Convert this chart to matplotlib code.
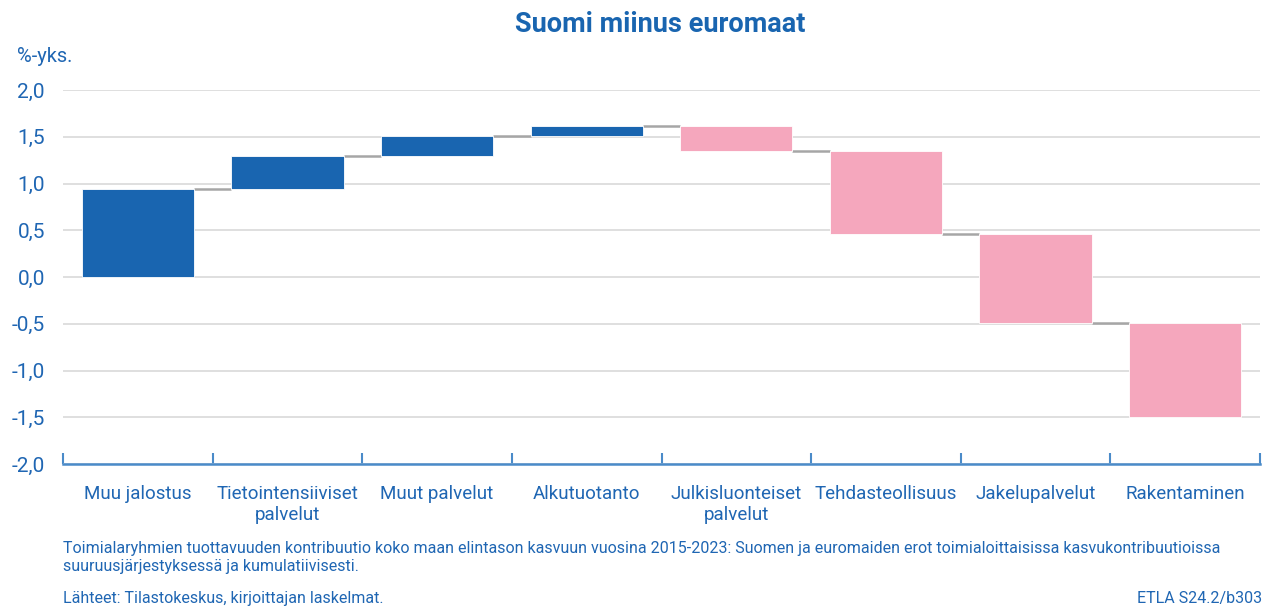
import numpy as np
import matplotlib
matplotlib.use("Agg")
from matplotlib import pyplot as plt
from matplotlib.ticker import FixedLocator

plt.rcParams['font.family'] = ['Roboto', 'DejaVu Sans']

# ---------------------------------------------------------------
categories = ["Muu jalostus", "Tietointensiiviset\npalvelut", "Muut palvelut",
              "Alkutuotanto", "Julkisluonteiset\npalvelut", "Tehdasteollisuus",
              "Jakelupalvelut", "Rakentaminen"]
deltas = [0.94, 0.35, 0.22, 0.10, -0.26, -0.89, -0.95, -1.01]
y_vals = [2.0, 1.5, 1.0, 0.5, 0.0, -0.5, -1.0, -1.5, -2.0]
y_txt = ["2,0", "1,5", "1,0", "0,5", "0,0", "-0,5", "-1,0", "-1,5", "-2,0"]

BLUE = "#1965b0"
PINK = "#f5a7bd"
TXT = "#1f66b3"
AXC = "#4a8bc9"

ends = np.cumsum(deltas)
starts = ends - np.array(deltas)
x = np.arange(len(categories))
w = 0.75

fig = plt.figure(figsize=(12.66, 6.07), dpi=100)
ax = fig.add_axes([63/1266, 1-464/607, (1260-63)/1266, (464-90)/607])

cols = [BLUE if d > 0 else PINK for d in deltas]
ax.bar(x, deltas, bottom=starts, width=w, color=cols, edgecolor="white",
       linewidth=0.6, zorder=3)

# yhdysviivat
for i in range(len(x) - 1):
    ax.plot([x[i] + w/2, x[i+1] - w/2], [ends[i], ends[i]], color="#a6a6a6",
            lw=1.8, zorder=2, solid_capstyle="butt")

ax.set_xlim(-0.5, len(x) - 0.5)
ax.set_ylim(-2.0, 2.0)

ax.yaxis.set_major_locator(FixedLocator(y_vals))
ax.set_yticklabels(y_txt)
ax.tick_params(axis="y", length=0, pad=13, labelsize=15, labelcolor=TXT)
ax.yaxis.grid(True, color="#d9d9d9", lw=1.2, zorder=0)

ax.xaxis.set_major_locator(FixedLocator(np.arange(-0.5, len(x), 1.0)))
ax.xaxis.set_minor_locator(FixedLocator(x))
ax.set_xticklabels([""] * (len(x) + 1))
ax.set_xticklabels(categories, minor=True)
ax.tick_params(axis="x", which="major", direction="in", length=8, width=1.5, color=AXC)
ax.tick_params(axis="x", which="minor", length=0, pad=15, labelsize=13.5, labelcolor=TXT)

for s in ["left", "right", "top"]:
    ax.spines[s].set_visible(False)
ax.spines["bottom"].set_color(AXC)
ax.spines["bottom"].set_linewidth(1.8)
ax.spines["bottom"].set_zorder(5)

fig.text(660/1266, 1-25/607, "Suomi miinus euromaat", ha="center", va="center",
         fontsize=19.5, fontweight="bold", color=BLUE)
fig.text(17/1266, 1-57/607, "%-yks.", ha="left", va="center", fontsize=14.5, color=TXT)

fig.text(63/1266, 1-549/607,
         "Toimialaryhmien tuottavuuden kontribuutio koko maan elintason kasvuun vuosina 2015-2023: "
         "Suomen ja euromaiden erot toimialoittaisissa kasvukontribuutioissa",
         ha="left", va="center", fontsize=11.5, color=TXT)
fig.text(63/1266, 1-567/607, "suuruusjärjestyksessä ja kumulatiivisesti.",
         ha="left", va="center", fontsize=11.5, color=TXT)
fig.text(63/1266, 1-598/607, "Lähteet: Tilastokeskus, kirjoittajan laskelmat.",
         ha="left", va="center", fontsize=11.5, color=TXT)
fig.text(1262/1266, 1-598/607, "ETLA S24.2/b303", ha="right", va="center",
         fontsize=11.5, color=TXT)

plt.savefig("out.png", dpi=100)
